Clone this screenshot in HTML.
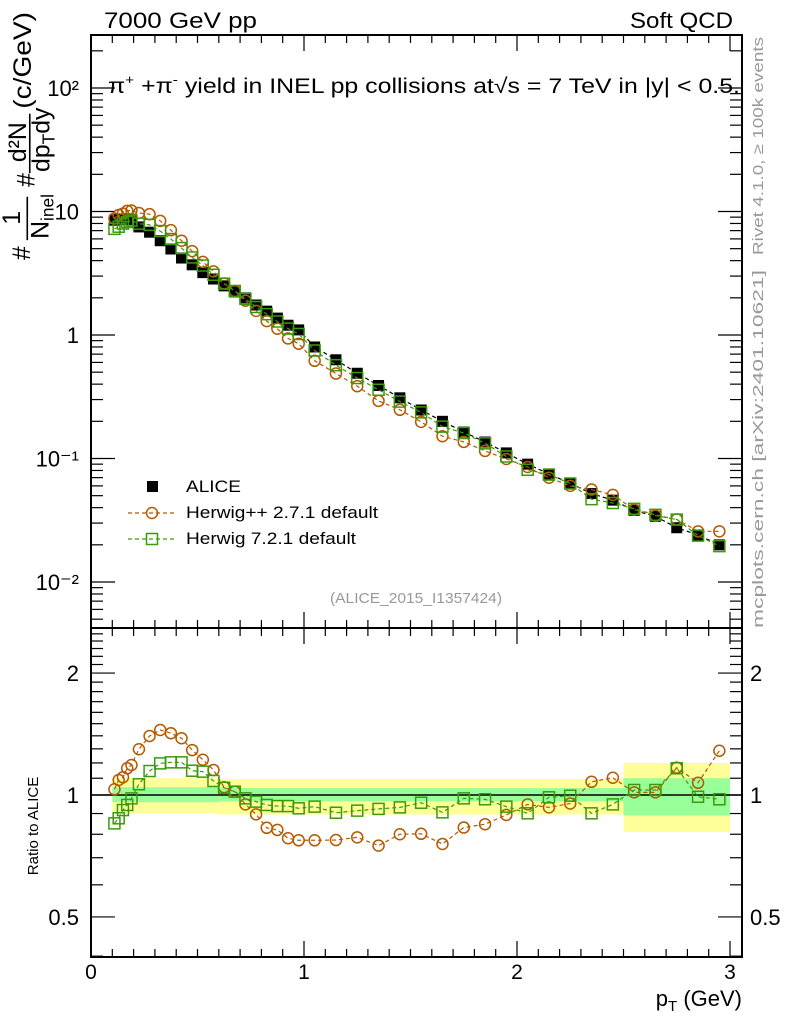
<!DOCTYPE html>
<html><head><meta charset="utf-8"><style>
body{margin:0;background:#fff;}
svg{display:block;font-family:"Liberation Sans",sans-serif;}
</style></head><body>
<svg id="c" width="786" height="1024" viewBox="0 0 786 1024">
<text x="104" y="28" font-size="22" textLength="153" lengthAdjust="spacingAndGlyphs">7000 GeV pp</text>
<text x="630" y="28" font-size="22" textLength="103" lengthAdjust="spacingAndGlyphs">Soft QCD</text>
<text x="108" y="93" font-size="21" textLength="632" lengthAdjust="spacingAndGlyphs">π<tspan font-size="13" dy="-9">+</tspan><tspan dy="9"> +π</tspan><tspan font-size="13" dy="-9">-</tspan><tspan dy="9"> yield in INEL pp collisions at√s =  7 TeV in |y| &lt; 0.5.</tspan></text>
<text x="330" y="603" font-size="15" fill="#999" textLength="172" lengthAdjust="spacingAndGlyphs">(ALICE_2015_I1357424)</text>
<text transform="translate(763,255) rotate(-90)" font-size="15" fill="#999" textLength="218" lengthAdjust="spacingAndGlyphs">Rivet 4.1.0, ≥ 100k events</text>
<text transform="translate(763,628) rotate(-90)" font-size="15" fill="#999" textLength="358" lengthAdjust="spacingAndGlyphs">mcplots.cern.ch [arXiv:2401.10621]</text>
<g font-size="20" transform="translate(0,260) scale(1.24) translate(0,-258)">
<text transform="translate(24,258) rotate(-90)">#</text>
<text transform="translate(16,224) rotate(-90)" text-anchor="middle">1</text>
<text transform="translate(39,241) rotate(-90)">N<tspan font-size="14" dy="4">inel</tspan></text>
<line x1="22" y1="242" x2="22" y2="207" stroke="#000" stroke-width="1.3"/>
<text transform="translate(28,199) rotate(-90)">#</text>
<text transform="translate(21,163) rotate(-90)" text-anchor="middle">d²N</text>
<text transform="translate(40,187) rotate(-90)">dp<tspan font-size="14" dy="4">T</tspan><tspan dy="-4">dy</tspan></text>
<line x1="24" y1="188" x2="24" y2="140" stroke="#000" stroke-width="1.3"/>
<text transform="translate(25,136) rotate(-90)" textLength="78" lengthAdjust="spacingAndGlyphs">(c/GeV)</text>
</g>
<text transform="translate(38,826) rotate(-90)" font-size="15" text-anchor="middle">Ratio to ALICE</text>
<text x="742" y="1006" font-size="22" text-anchor="end">p<tspan font-size="15" dy="5">T</tspan><tspan dy="-5"> (GeV)</tspan></text>
<g id="bands"></g><g id="axes"></g><g id="marks"></g>
<g font-size="17">
<rect x="147" y="481" width="11" height="11" fill="#000"/>
<text x="186" y="492" textLength="55" lengthAdjust="spacingAndGlyphs">ALICE</text>
<line x1="128" y1="513" x2="176" y2="513" stroke="#b35900" stroke-dasharray="4,3" stroke-width="1.2"/>
<circle cx="152" cy="513" r="5.5" fill="none" stroke="#b35900" stroke-width="1.5"/>
<text x="186" y="518" textLength="192" lengthAdjust="spacingAndGlyphs">Herwig++ 2.7.1 default</text>
<line x1="128" y1="539" x2="176" y2="539" stroke="#3a9a0a" stroke-dasharray="4,3" stroke-width="1.2"/>
<rect x="146.5" y="533.5" width="11" height="11" fill="none" stroke="#3a9a0a" stroke-width="1.5"/>
<text x="186" y="544" textLength="170" lengthAdjust="spacingAndGlyphs">Herwig 7.2.1 default</text>
</g>
</svg>
<script>
const pT=[0.11,0.13,0.15,0.17,0.19,0.225,0.275,0.325,0.375,0.425,0.475,0.525,0.575,0.625,0.675,0.725,0.775,0.825,0.875,0.925,0.975,1.05,1.15,1.25,1.35,1.45,1.55,1.65,1.75,1.85,1.95,2.05,2.15,2.25,2.35,2.45,2.55,2.65,2.75,2.85,2.95];
const aliceY=[8.5,8.6,8.7,8.7,8.6,7.5,6.8,5.8,4.97,4.2,3.7,3.2,2.84,2.5,2.23,2.0,1.75,1.56,1.37,1.2,1.1,0.8,0.63,0.49,0.39,0.31,0.247,0.2,0.164,0.136,0.111,0.09,0.075,0.063,0.052,0.046,0.038,0.034,0.0275,0.024,0.020];
const ratioHpp=[1.033,1.089,1.106,1.164,1.186,1.297,1.399,1.447,1.421,1.381,1.291,1.222,1.153,1.045,1.019,0.948,0.896,0.830,0.820,0.782,0.773,0.773,0.774,0.786,0.75,0.8,0.802,0.757,0.831,0.847,0.893,0.948,0.932,0.953,1.078,1.103,1.015,1.015,1.168,1.072,1.286];
const ratioH7=[0.851,0.876,0.918,0.945,0.981,1.063,1.146,1.197,1.204,1.204,1.148,1.142,1.083,1.042,1.019,0.981,0.963,0.945,0.939,0.939,0.927,0.936,0.904,0.915,0.924,0.932,0.957,0.906,0.981,0.976,0.936,0.901,0.987,0.996,0.901,0.948,1.029,1.029,1.164,0.990,0.976];
const binEdges=[0.1,0.6,2.5,3.0];
const bandTotUp=[1.10,1.095,1.2];
const bandTotDn=[0.90,0.895,0.81];
const bandStatUp=[1.045,1.04,1.1];
const bandStatDn=[0.96,0.965,0.89];
const xTicks=[0,1,2,3];
const yTicksMain=[0.01,0.1,1,10,100];
const yTickLabelsMain=["10⁻²","10⁻¹","1","10","10²"];
const yTicksRatio=[0.5,1,2];
const yTickLabelsRatio=["0.5","1","2"];

const NS="http://www.w3.org/2000/svg";
const L=91,R=742,T=35,MB=628,B=957;
const X=v=>L+213*v;
const Ym=v=>335-123.5*Math.log10(v);
const Yr=v=>795-405*Math.log10(v);
function mk(p,tag,a){const e=document.createElementNS(NS,tag);for(const k in a)e.setAttribute(k,a[k]);p.appendChild(e);return e;}
const bands=document.getElementById('bands'),axes=document.getElementById('axes'),marks=document.getElementById('marks');
for(let i=0;i<binEdges.length-1;i++){
 let r=mk(bands,'rect',{x:X(binEdges[i]),y:Yr(bandTotUp[i]),width:X(binEdges[i+1])-X(binEdges[i]),height:Yr(bandTotDn[i])-Yr(bandTotUp[i]),fill:'#ffff99'});
 
 
 let g=mk(bands,'rect',{x:X(binEdges[i]),y:Yr(bandStatUp[i]),width:X(binEdges[i+1])-X(binEdges[i]),height:Yr(bandStatDn[i])-Yr(bandStatUp[i]),fill:'#99ff99'});
 
 
}
mk(axes,'line',{x1:L,x2:R,y1:Yr(1),y2:Yr(1),stroke:'#000','stroke-width':1.5});
mk(axes,'rect',{x:L,y:T,width:R-L,height:MB-T,fill:'none',stroke:'#000','stroke-width':2});
mk(axes,'rect',{x:L,y:MB,width:R-L,height:B-MB,fill:'none',stroke:'#000','stroke-width':2});
for(let v=0;v<=3.0001;v+=0.1){const big=Math.abs(v-Math.round(v))<1e-6;
 [[T,1],[MB,-1],[MB,1],[B,-1]].forEach(([y0,d])=>mk(axes,'line',{x1:X(v),x2:X(v),y1:y0,y2:y0+d*(big?16:8),stroke:'#000','stroke-width':1.2}));}
xTicks.forEach(v=>{const t=mk(axes,'text',{x:X(v),y:979,'font-size':21,'text-anchor':'middle'});t.textContent=v;
 
 });
for(let e=-3;e<=2;e++)for(let m=1;m<10;m++){const v=m*Math.pow(10,e),y=Ym(v);if(y<T||y>MB)continue;const len=m==1?24:12;
 mk(axes,'line',{x1:L,x2:L+len,y1:y,y2:y,stroke:'#000','stroke-width':1.2});mk(axes,'line',{x1:R,x2:R-len,y1:y,y2:y,stroke:'#000','stroke-width':1.2});}
yTicksMain.forEach((v,i)=>{const t=mk(axes,'text',{x:79,y:Ym(v)+8,'font-size':22,'text-anchor':'end'});t.textContent=yTickLabelsMain[i];
 
 });
for(let k=0;k<=25;k++){const v=0.4+k*0.1;const y=Yr(v);if(y<MB||y>B)continue;const big=[0.5,1,2].some(z=>Math.abs(z-v)<1e-6),len=big?24:12;
 mk(axes,'line',{x1:L,x2:L+len,y1:y,y2:y,stroke:'#000','stroke-width':1.2});mk(axes,'line',{x1:R,x2:R-len,y1:y,y2:y,stroke:'#000','stroke-width':1.2});}
yTicksRatio.forEach((v,i)=>{[[79,'end'],[750,'start']].forEach(([x,a])=>{const t=mk(axes,'text',{x:x,y:Yr(v)+8,'font-size':22,'text-anchor':a});t.textContent=yTickLabelsRatio[i];
 
 });});
function series(vals,yf,col,shape,name){
 const pts=pT.map((p,i)=>X(p)+','+yf(vals[i])).join(' ');
 const pl=mk(marks,'polyline',{points:pts,fill:'none',stroke:col,'stroke-width':1.2,'stroke-dasharray':'4,3'});
 
 
 pT.forEach((p,i)=>{const x=X(p),y=yf(vals[i]);let e;
  if(shape=='c')e=mk(marks,'circle',{cx:x,cy:y,r:5.5,fill:'none',stroke:col,'stroke-width':1.5});
  else if(shape=='s')e=mk(marks,'rect',{x:x-5.5,y:y-5.5,width:11,height:11,fill:'none',stroke:col,'stroke-width':1.5});
  else e=mk(marks,'rect',{x:x-5.5,y:y-5.5,width:11,height:11,fill:'#000'});
  
  });
}
const hpp=aliceY.map((v,i)=>v*ratioHpp[i]),h7=aliceY.map((v,i)=>v*ratioH7[i]);
series(aliceY,Ym,'#000','f','alice');
series(hpp,Ym,'#b35900','c','herwigpp');
series(h7,Ym,'#3a9a0a','s','herwig7');
series(ratioHpp,Yr,'#b35900','c','herwigpp-ratio');
series(ratioH7,Yr,'#3a9a0a','s','herwig7-ratio');
</script>
</body></html>
